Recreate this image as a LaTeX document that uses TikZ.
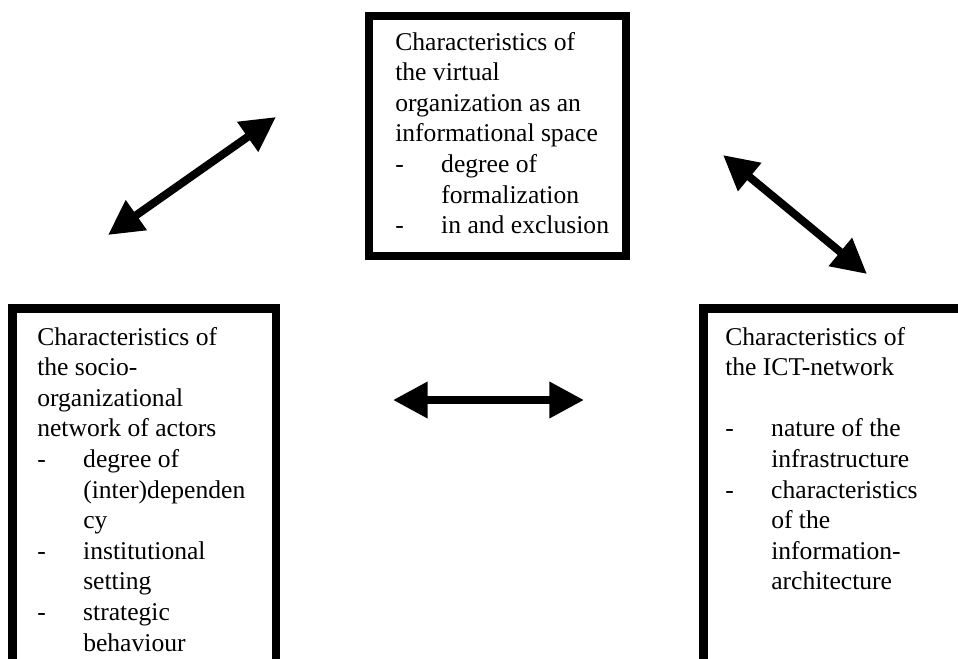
\documentclass[tikz,border=0pt]{standalone}
\usepackage{fontspec}
\setmainfont{Liberation Serif}
\usetikzlibrary{arrows.meta}
\newcommand{\dashln}[1]{\hbox{\makebox[34.5pt][l]{-}#1}}
\newcommand{\contln}[1]{\hbox{\hspace*{34.5pt}#1}}
\newcommand{\plainln}[1]{\hbox{#1}}
\begin{document}
\begin{tikzpicture}[x=0.75pt,y=-0.75pt,
  frame/.style={line width=6.4pt, line join=miter, line cap=rect},
  dbl/.style={line width=6pt, {Triangle[length=26pt,width=26pt]}-{Triangle[length=26pt,width=26pt]}},
  boxtext/.style={anchor=base west, inner sep=0pt, font=\fontsize{19.2}{22.95}\selectfont}]
\useasboundingbox (0,0) rectangle (958,658);
\clip (0,0) rectangle (958,658);
\fill[white] (0,0) rectangle (958,658);

% boxes
\draw[frame] (369,16) rectangle (626,256);
\draw[frame] (12.5,690) -- (12.5,308.3) -- (276,308.3) -- (276,690);
\draw[frame] (703.7,690) -- (703.7,308.3) -- (990,308.3);

% texts
\node[boxtext] (toptext) at (395,50) {\vtop{%
  \plainln{Characteristics of}
  \plainln{the virtual}
  \plainln{organization as an}
  \plainln{informational space}
  \dashln{degree of}
  \contln{formalization}
  \dashln{in and exclusion}}};

\node[boxtext] (lefttext) at (37,345) {\vtop{%
  \plainln{Characteristics of}
  \plainln{the socio-}
  \plainln{organizational}
  \plainln{network of actors}
  \dashln{degree of}
  \contln{(inter)dependen}
  \contln{cy}
  \dashln{institutional}
  \contln{setting}
  \dashln{strategic}
  \contln{behaviour}}};

\node[boxtext] (righttext) at (725,345) {\vtop{%
  \plainln{Characteristics of}
  \plainln{the ICT-network}
  \plainln{}
  \dashln{nature of the}
  \contln{infrastructure}
  \dashln{characteristics}
  \contln{of the}
  \contln{information-}
  \contln{architecture}}};

% arrows
\coordinate (tlA) at (108,235);
\coordinate (tlB) at (276,117);
\coordinate (trA) at (723,155);
\coordinate (trB) at (867,274);
\coordinate (mA) at (393,400);
\coordinate (mB) at (584,400);
\draw[dbl] (tlA) -- (tlB);
\draw[dbl] (trA) -- (trB);
\draw[dbl] (mA) -- (mB);
\end{tikzpicture}
\end{document}
